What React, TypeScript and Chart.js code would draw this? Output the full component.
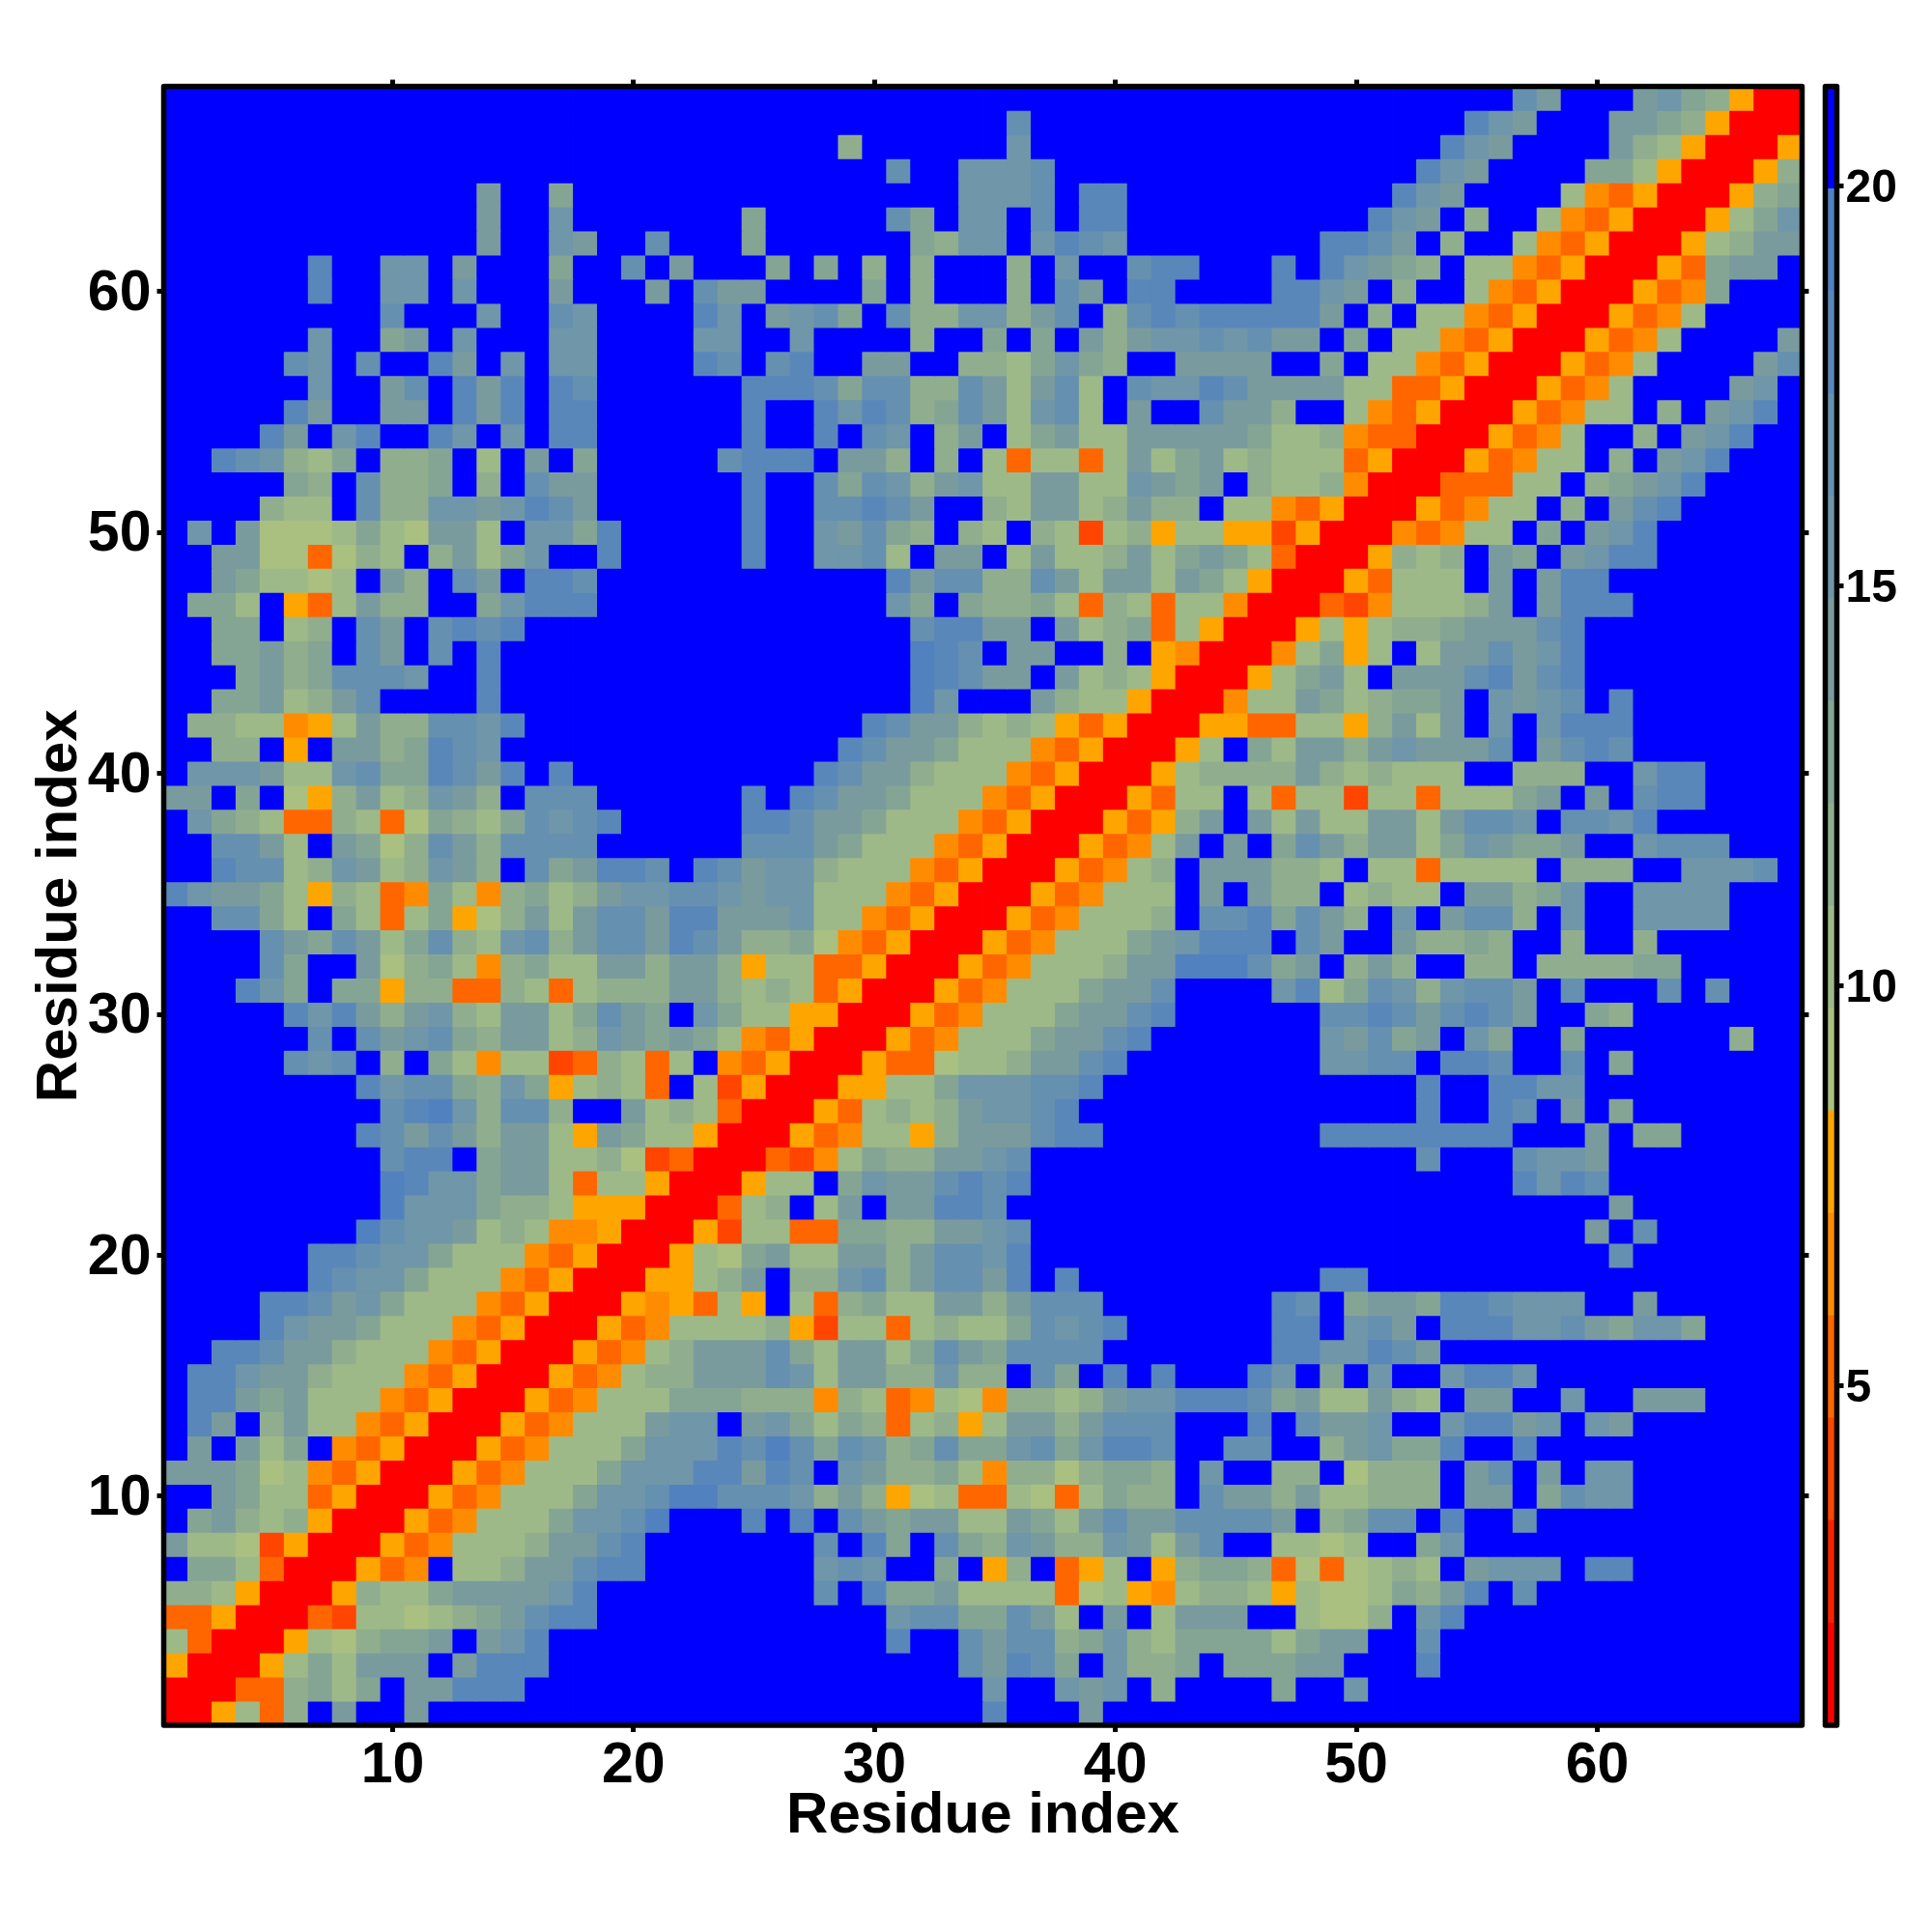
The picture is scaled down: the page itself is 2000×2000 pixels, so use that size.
import React, { useEffect, useRef } from "react";
import { Chart, registerables } from "chart.js";

Chart.register(...registerables);

const distanceRows: string[] = [
  "005738faff afffffffff ffffffffff ffffdfffaf ffffffffff ffffffffff ffffffff",
  ".00338979f aadddfffff ffffffffff ffffbffbab f8ffff9ffb ffffffffff ffffffff",
  "..005797aa afadddffff ffffffffff fffcadc9fb 889f999aaf ffdfffffff ffffffff",
  "...0057689 9afabdffff ffffffffff dffcacc89b 87999979aa ffcfffffff ffffffff",
  "....003277 6789acddff ffffffffff bcc99ca7fa f7aaaff766 8fbdffffff ffffffff",
  ".....00587 79aaaabdff fffffffcfd 99a7777367 5478875766 798adfcfff ffffffff",
  "......0053 4f778aacdd fffffffbcb ff9f58f357 f589983636 787fabbbfd dfffffff",
  ".......005 347778aacd fffffffcfd 9fc98ba88b a7acff7767 ff9bffffff ffffffff",
  "........00 5347779bbc efffdfdfca 9aa77a97ac aaccccaf89 ccfdffcfff ffffffff",
  ".........0 05347779bb ceecccb8a8 5673376379 88fcaa8a77 888faaf9cb bfffffff",
  "005347779b bbddadcfba 8897488689 98fbff88f6 888facfafb bfffffff",
  ".005347779 bbbdcec9cb 89c99bc9bd dcffccff8a b99dffdfff ffffffff",
  "..00534777 abbfab9798 37857aa8ac ccfffdfcaa bffbddabfb afffffff",
  "...0053477 7999888487 347648878a bbdddc9a77 a87faaffbf faaaffff",
  "....005347 88aaacb7aa 88b88fc9fd fdfffdbf9f bffbddbfff ffffffff",
  ".....00534 78aaac97aa 79ca9ccccf ffffffddbb dcafffffff ffffffff",
  "......0053 4777785277 378779cbcd ffffffddfb cafdddbbca 9bb9ffff",
  ".......005 45375f7389 77aa8acccf ffffffdcf9 aa9ddcbbbf faffffff",
  "........00 5578af88bc 8accadfdff ffffffffdd ffffffffff ffffffff",
  ".........0 05769a77aa 8accbdffff ffffffffff ffffffffff cfffffff",
  "0052773399 88aabcffff ffffffffff fffffffffa fcffffff",
  ".00378f7af aaddcfffff ffffffffff ffffffffff afffffff",
  "..00577f9b aacdcdffff ffffffffff ffffffdbdc ffffffff",
  "...0032479 88aabcffff ffffffffff ffcfffcbba ffffffff",
  "....005347 758aaacddf ffffffffdd ddddddfffa f99fffff",
  ".....00537 878abbcdff ffffffffff ffdffdcfaf 9fffffff",
  "......0055 779bbbccdf ffffffffff ffdffddbbf ffffffff",
  ".......005 336778aacd ffffffffbb ccfddcffcf 9fffffff",
  "........00 5347779aac dfffffffba c9afb9ff9f fffff8ff",
  ".........0 05347779aa cdffffffcc dcacdcaff9 8fffffff",
  "005347779a acffffbd79 cb8bccafcf ffcfcfff",
  ".005347778 aaeeec9af8 a8ff88f888 899fffff",
  "..00534777 9abdddfcaf fa8898ff8f f8ffffff",
  "...0053477 78fccd9ca8 fbfacc8fbf fbbbbfff",
  "....005347 77fafa88f7 877faa89bf fbbbbfff",
  ".....00534 78faaa887f 7737777f88 8ffbbbcf",
  "......0053 47afaf9ca8 aa79ba99af fbcccfff",
  ".......005 358afa7a77 aa7accbfcc bdffffff",
  "........00 5377f73772 7737779afa fcddffff",
  ".........0 0578888a87 8777ff888f fbddffff",
  "0057f97aa8 abaaacfacd cfffffff",
  ".005533775 8a7afbfbdd dfffffff",
  "..00477a97 899afbabcf dfffffff",
  "...00579a7 faaacdacdf ffffffff",
  "....004795 7f7aacabdf ffffffff",
  ".....00575 7889aaacdf ffffffff",
  "......0032 47778afadd dfffffff",
  ".......005 3777fafadd ffffffff",
  "........00 5878fa9fab ddffffff",
  ".........0 043477f9fa bdffffff",
  "0053477f8f acdfffff",
  ".0033377f8 9abdffff",
  "..0053477f 8fabdfff",
  "...005347f f8fabdff",
  "....005347 7f8fabdf",
  ".....00534 7ffffabf",
  "......0053 47ffffac",
  ".......005 347ffffa",
  "........00 5347ffff",
  ".........0 05349fff",
  "00539aaf",
  ".00578aa",
  "..00579b",
  "...00589",
  "....0058",
  ".....005",
  "......00",
  ".......0",
];

const residueTicks = [10, 20, 30, 40, 50, 60];
const colorbarTicks = [5, 10, 15, 20];
const levelColors = [
  "#ff0000", "#f82200", "#ff4500", "#ff6600", "#ff8c00", "#ffa500",
  "#a9c080", "#9eb988", "#90ae8e", "#85a594", "#7a9b9e", "#6f96a9",
  "#6690b0", "#5a87ba", "#5281c0", "#0000ff",
];
const valueMin = 0.75;
const valueMax = 21.25;
const residueCount = 68;

const FONT = "'Liberation Sans', Arial, sans-serif";
const levelStep = (valueMax - valueMin) / levelColors.length;
const levelOf = (ch: string) => parseInt(ch, 16);
const valueOfLevel = (l: number) => valueMin + (l + 0.5) * levelStep;
const colorOfValue = (v: number) =>
  levelColors[Math.min(levelColors.length - 1, Math.floor((v - valueMin) / levelStep))];

function buildMatrix(): number[][] {
  const m: number[][] = Array.from({ length: residueCount }, () => new Array(residueCount).fill(valueMax));
  distanceRows.forEach((row, r) => {
    const s = row.replace(/ /g, "").padStart(residueCount, ".");
    for (let c = r; c < residueCount; c++) {
      const ch = s[c];
      if (ch && ch !== ".") {
        const v = valueOfLevel(levelOf(ch));
        m[r][c] = v;
        m[c][r] = v;
      }
    }
  });
  return m;
}

const framePlugin = {
  id: "frame",
  afterDatasetsDraw(chart: any) {
    const { ctx, chartArea: a } = chart;
    ctx.save();
    ctx.lineWidth = 5.5;
    ctx.lineJoin = "round";
    ctx.strokeStyle = "#000";
    ctx.strokeRect(a.left, a.top, a.right - a.left, a.bottom - a.top);
    ctx.restore();
  },
};

const setTicks = (values: number[]) => (s: any) => {
  s.ticks = values.map((value) => ({ value }));
};

const tickGrid = {
  display: true,
  offset: false,
  drawOnChartArea: false,
  drawTicks: true,
  tickLength: 7,
  tickWidth: 5,
  tickColor: "#000",
};

export default function App() {
  const mainRef = useRef<HTMLCanvasElement>(null);
  const barRef = useRef<HTMLCanvasElement>(null);

  useEffect(() => {
    const matrix = buildMatrix();
    const cells: any[] = [];
    const colors: string[] = [];
    for (let r = 0; r < residueCount; r++) {
      for (let c = 0; c < residueCount; c++) {
        cells.push({ x: c + 1, y: [r + 0.5, r + 1.5] });
        colors.push(colorOfValue(matrix[r][c]));
      }
    }
    const range = { min: 0.5, max: residueCount + 0.5 };
    const main = new Chart(mainRef.current!, {
      type: "bar",
      data: {
        datasets: [
          {
            data: cells,
            backgroundColor: colors,
            borderWidth: 0,
            barPercentage: 1,
            categoryPercentage: 1,
            inflateAmount: 0.4,
          } as any,
        ],
      },
      plugins: [framePlugin],
      options: {
        animation: false,
        responsive: false,
        layout: { padding: 0 },
        plugins: { legend: { display: false }, tooltip: { enabled: false } },
        scales: {
          x: {
            type: "linear",
            position: "bottom",
            ...range,
            offset: false,
            afterBuildTicks: setTicks(residueTicks),
            afterFit: (s: any) => { s.height = 214; },
            grid: tickGrid,
            border: { display: false },
            ticks: { color: "#000", font: { family: FONT, size: 59, weight: "bold" }, padding: 0, maxRotation: 0, autoSkip: false },
            title: { display: true, text: "Residue index", color: "#000", font: { family: FONT, size: 60, weight: "bold" }, padding: { top: 0, bottom: 84 } },
          },
          y: {
            type: "linear",
            position: "left",
            ...range,
            afterBuildTicks: setTicks(residueTicks),
            afterFit: (s: any) => { s.width = 169.5; },
            grid: tickGrid,
            border: { display: false },
            ticks: { color: "#000", font: { family: FONT, size: 59, weight: "bold" }, padding: 6, labelOffset: 3, autoSkip: false },
            title: { display: true, text: "Residue index", color: "#000", font: { family: FONT, size: 60, weight: "bold" }, padding: { top: 26, bottom: 0 } },
          },
          xTop: {
            type: "linear",
            axis: "x",
            position: "top",
            ...range,
            offset: false,
            afterBuildTicks: setTicks(residueTicks),
            afterFit: (s: any) => { s.height = 89.5; },
            grid: tickGrid,
            border: { display: false },
            ticks: { display: false, autoSkip: false },
          },
          yRight: {
            type: "linear",
            axis: "y",
            position: "right",
            ...range,
            afterBuildTicks: setTicks(residueTicks),
            afterFit: (s: any) => { s.width = 134.5; },
            grid: tickGrid,
            border: { display: false },
            ticks: { display: false, autoSkip: false },
          },
        } as any,
      },
    });

    const edges = levelColors.map((_, i) => [valueMin + i * levelStep, valueMin + (i + 1) * levelStep]);
    const bar = new Chart(barRef.current!, {
      type: "bar",
      data: {
        labels: [""],
        datasets: edges.map((e, i) => ({
          data: [e as any],
          backgroundColor: levelColors[i],
          borderWidth: 0,
          grouped: false,
          barPercentage: 1,
          categoryPercentage: 1,
        })) as any,
      },
      plugins: [framePlugin],
      options: {
        animation: false,
        responsive: false,
        layout: { padding: { left: 89.5, top: 89.5, bottom: 214, right: 0 } },
        plugins: { legend: { display: false }, tooltip: { enabled: false } },
        scales: {
          x: { display: false },
          y: {
            type: "linear",
            position: "right",
            min: valueMin,
            max: valueMax,
            afterBuildTicks: setTicks(colorbarTicks),
            afterFit: (s: any) => { s.width = 98.5; },
            grid: tickGrid,
            border: { display: false },
            ticks: { color: "#000", font: { family: FONT, size: 48, weight: "bold" }, padding: 2, labelOffset: 3, autoSkip: false },
          },
        } as any,
      },
    });

    return () => {
      main.destroy();
      bar.destroy();
    };
  }, []);

  return (
    <div style={{ position: "absolute", left: 0, top: 0, width: 2000, height: 2000, background: "#fff" }}>
      <canvas ref={mainRef} width={2000} height={2000} style={{ position: "absolute", left: 0, top: 0, width: 2000, height: 2000 }} />
      <canvas ref={barRef} width={200} height={2000} style={{ position: "absolute", left: 1800, top: 0, width: 200, height: 2000 }} />
    </div>
  );
}
